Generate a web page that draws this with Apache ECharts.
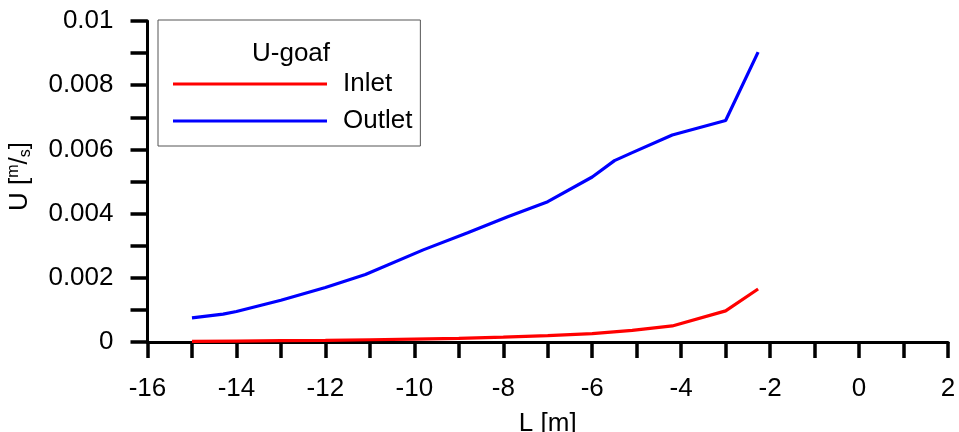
<!DOCTYPE html>
<html>
<head>
<meta charset="utf-8">
<script src="https://cdn.jsdelivr.net/npm/echarts@6/dist/echarts.min.js"></script>
<style>html,body{margin:0;padding:0;background:#fff;}#c{width:959px;height:432px;}</style>
</head>
<body>
<div id="c"></div>
<script>
const legendTitle = 'U-goaf';
const seriesNames = ['Inlet', 'Outlet'];
const inletL = [-15, -14, -13, -12, -11, -10, -9, -8, -7, -6, -5.1, -4.2, -3, -2.27];
const inletU = [0.00002, 0.00003, 0.00004, 0.00005, 0.00007, 0.00009, 0.00011, 0.00015, 0.0002, 0.00026, 0.00036, 0.0005, 0.00097, 0.00165];
const outletL = [-15, -14.3, -14, -13, -12, -11.1, -9.8, -8.8, -7.9, -7, -6, -5.5, -5.1, -4.2, -3, -2.27];
const outletU = [0.00075, 0.00087, 0.00095, 0.0013, 0.0017, 0.0021, 0.00287, 0.0034, 0.0039, 0.00437, 0.00514, 0.00565, 0.0059, 0.00645, 0.0069, 0.00903];
const xTicks = { min: -16, max: 2, step: 1 };
const yTicks = { min: 0, max: 0.01, step: 0.001 };

const FONT = 'Liberation Sans, Arial, sans-serif';
const FS = 26;
const chart = echarts.init(document.getElementById('c'));
const zip = (a, b) => a.map((v, i) => [v, b[i]]);
chart.setOption({
  backgroundColor: '#fff',
  animation: false,
  textStyle: { fontFamily: FONT },
  title: {
    text: legendTitle, left: 291, top: 41, textAlign: 'center', padding: 0,
    textStyle: { fontSize: FS, fontWeight: 'normal', color: '#000', fontFamily: FONT }
  },
  legend: {
    orient: 'vertical', left: 158, top: 20,
    padding: [51, 8, 12, 15], itemGap: 11,
    itemWidth: 154, itemHeight: 3, icon: 'rect',
    borderColor: '#555', borderWidth: 1,
    textStyle: { fontSize: FS, color: '#000', fontFamily: FONT, padding: [0, 0, 0, 11] },
    data: seriesNames
  },
  grid: { left: 147.5, right: 11, top: 21, bottom: 90, containLabel: false, outerBoundsMode: 'none' },
  xAxis: {
    type: 'value', min: xTicks.min, max: xTicks.max, interval: xTicks.step,
    name: 'L [m]', nameLocation: 'middle', nameGap: 69,
    nameTextStyle: { fontSize: FS, color: '#000', fontFamily: FONT },
    axisLine: { show: true, onZero: false, lineStyle: { color: '#000', width: 3 } },
    axisTick: { show: true, inside: false, length: 16, lineStyle: { color: '#000', width: 3.5 } },
    axisLabel: {
      margin: 34, fontSize: FS, color: '#000', fontFamily: FONT,
      formatter: v => (Math.round(v) % 2 === 0 ? String(Math.round(v)) : '')
    },
    splitLine: { show: false }
  },
  yAxis: {
    type: 'value', min: yTicks.min, max: yTicks.max, interval: yTicks.step,
    name: '{n|U [}{sup|m}{n|/}{sub|s}{n|]}', nameLocation: 'middle', nameGap: 114,
    nameTextStyle: {
      fontSize: FS, color: '#000', fontFamily: FONT, padding: [0, 0, 0, 10],
      rich: {
        n: { fontSize: FS, color: '#000', fontFamily: FONT },
        sup: { fontSize: 16, color: '#000', fontFamily: FONT, verticalAlign: 'top', padding: [0, 0, 12, 0] },
        sub: { fontSize: 16, color: '#000', fontFamily: FONT, verticalAlign: 'bottom', padding: [8, 0, 0, 0] }
      }
    },
    axisLine: { show: true, onZero: false, lineStyle: { color: '#000', width: 3 } },
    axisTick: { show: true, inside: false, length: 17, lineStyle: { color: '#000', width: 3.5 } },
    axisLabel: {
      margin: 34, fontSize: FS, color: '#000', fontFamily: FONT,
      formatter: v => {
        const k = Math.round(v / yTicks.step);
        return k % 2 === 0 ? String(parseFloat(v.toFixed(3))) : '';
      }
    },
    splitLine: { show: false }
  },
  series: [
    { name: seriesNames[0], type: 'line', data: zip(inletL, inletU), showSymbol: false, symbol: 'none',
      lineStyle: { color: '#ff0000', width: 3.2 }, itemStyle: { color: '#ff0000' } },
    { name: seriesNames[1], type: 'line', data: zip(outletL, outletU), showSymbol: false, symbol: 'none',
      lineStyle: { color: '#0000ff', width: 3.2 }, itemStyle: { color: '#0000ff' } }
  ]
});
</script>
</body>
</html>
